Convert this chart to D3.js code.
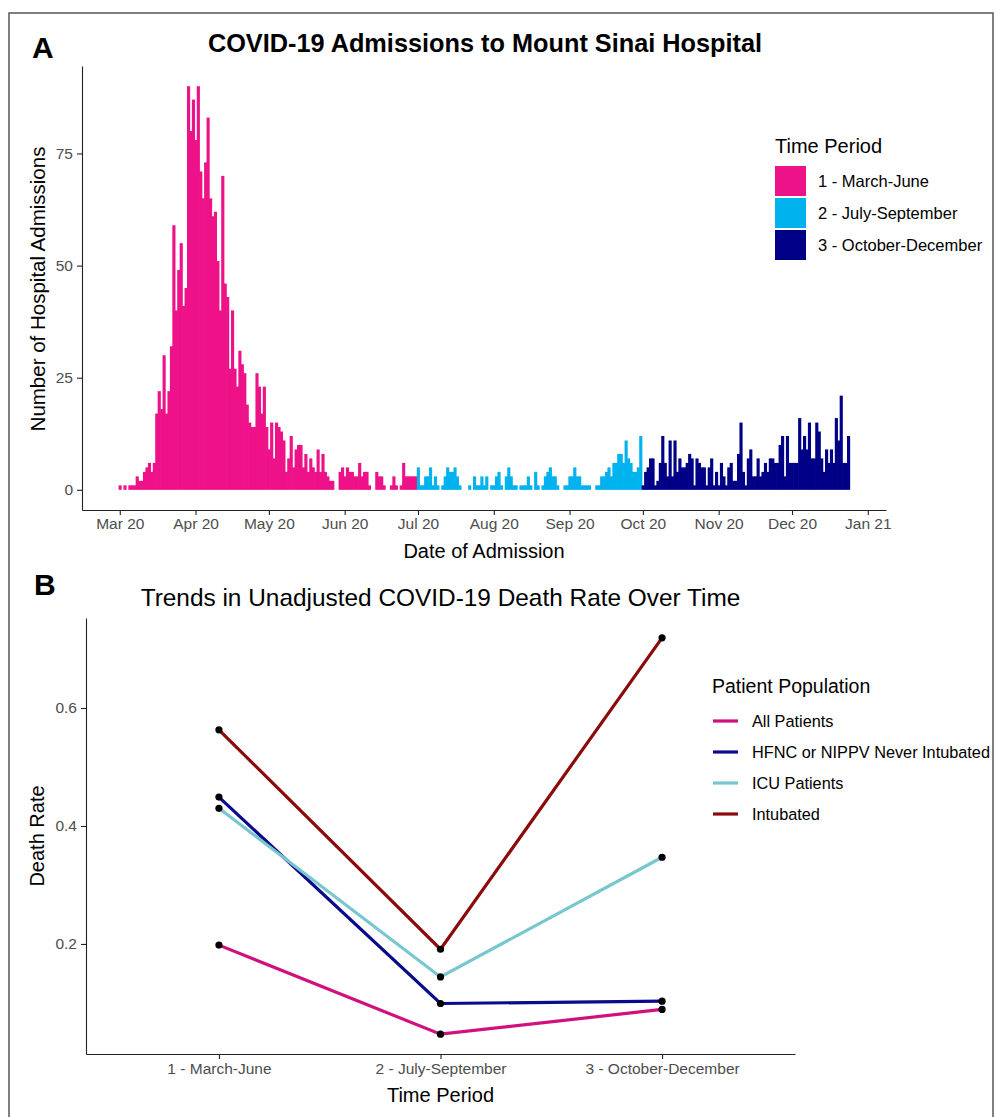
<!DOCTYPE html>
<meta charset="utf-8">
<style>
body { margin: 0; background: #fff; }
svg { font-family: "Liberation Sans", Arial, sans-serif; }
.axis path, .axis line { stroke: #222; stroke-width: 1.1; }
.axis text { fill: #4d4d4d; font-size: 15.5px; }
</style>
<svg width="997" height="1117"></svg>
<script src="https://d3js.org/d3.v7.min.js"></script>
<script>

// ---- panel A data: daily admissions, one array per time period
var periods = ["1 - March-June", "2 - July-September", "3 - October-December"];
var periodStarts = ["2020-03-01", "2020-07-01", "2020-10-01"];

var admitsMarJun = [1,0,1,0,1,1,1,3,2,2,
  4,5,6,4,6,17,22,18,30,17,
  22,32,59,40,49,55,41,45,90,80,
  87,78,90,71,65,73,83,65,61,62,
  51,40,70,46,43,27,40,27,23,31,
  28,26,19,15,14,14,26,23,17,23,
  14,9,15,7,15,14,13,11,4,7,
  12,5,9,10,10,5,8,4,7,5,
  4,9,4,8,4,3,2,2,0,0,
  4,5,3,5,4,4,3,3,6,3,
  4,4,1,0,0,4,3,3,1,0,
  0,1,3,1,0,1,6,3,3,3,
  3,3];
var admitsJulSep = [5,1,1,3,3,5,1,3,1,0,
  1,3,5,4,4,5,3,1,0,0,
  0,1,0,3,1,1,3,1,3,0,
  1,1,3,4,1,0,3,5,3,1,
  1,0,1,1,1,3,1,0,4,1,
  0,1,3,4,5,3,3,1,0,0,
  1,1,3,3,5,3,3,1,1,1,
  1,0,0,1,1,3,3,4,5,3,
  6,6,8,8,6,11,7,6,4,4,
  5,12];
var admitsOctDec = [1,4,5,7,7,1,2,6,12,6,
  3,11,3,11,4,7,5,5,6,8,
  7,1,7,6,5,5,1,5,7,1,
  4,1,6,3,1,5,6,2,2,8,
  15,4,1,7,9,3,3,7,3,4,
  6,4,7,7,6,6,10,12,3,12,
  6,6,6,6,16,9,12,9,15,7,
  7,15,13,7,4,9,6,9,6,16,
  11,21,6,6,12];
var admitTicks = [0, 25, 50, 75];

// ---- panel B data: death rate by period
var populations = ["All Patients", "HFNC or NIPPV Never Intubated", "ICU Patients", "Intubated"];
var rateAll = [0.198, 0.047, 0.089];
var rateHfnc = [0.449, 0.099, 0.103];
var rateIcu = [0.430, 0.144, 0.347];
var rateIntubated = [0.563, 0.191, 0.719];
var rateTicks = [0.2, 0.4, 0.6];

var svg = d3.select("svg");

// outer frame
svg.append("rect")
  .attr("x", 9).attr("y", 13)
  .attr("width", 984).attr("height", 1130)
  .attr("fill", "none").attr("stroke", "#555").attr("stroke-width", 1.5);

// ================= PANEL A =================
var parse = d3.timeParse("%Y-%m-%d");
var admitArrays = [admitsMarJun, admitsJulSep, admitsOctDec];
var admissions = [];
admitArrays.forEach(function(arr, i) {
  var start = parse(periodStarts[i]);
  arr.forEach(function(v, j) {
    admissions.push({date: d3.timeDay.offset(start, j), n: v, period: periods[i]});
  });
});

var halfDay = 12 * 3600 * 1000;
var lo = +admissions[0].date - halfDay,
    hi = +admissions[admissions.length - 1].date + halfDay,
    padX = (hi - lo) * 0.05;

var xA = d3.scaleTime()
  .domain([new Date(lo - padX), new Date(hi + padX)])
  .range([82, 886]);

var maxN = d3.max(admissions, function(d) { return d.n; });
var yA = d3.scaleLinear()
  .domain([-maxN * 0.05, maxN * 1.05])
  .range([510, 66]);

var periodColor = d3.scaleOrdinal()
  .domain(periods)
  .range(["#EE1289", "#00B2EE", "#000086"]);

var gA = svg.append("g");

// bars overlap a little so no light seams show between neighbouring days
gA.selectAll(".bar")
  .data(admissions.filter(function(d) { return d.n > 0; }))
  .enter().append("rect")
    .attr("class", "bar")
    .attr("x", function(d) { return xA(new Date(+d.date - halfDay)); })
    .attr("width", function(d) { return xA(new Date(+d.date + halfDay)) - xA(new Date(+d.date - halfDay)) + 0.7; })
    .attr("y", function(d) { return yA(d.n); })
    .attr("height", function(d) { return yA(0) - yA(d.n); })
    .attr("fill", function(d) { return periodColor(d.period); });

gA.append("g")
  .attr("class", "axis")
  .attr("transform", "translate(0,510)")
  .call(d3.axisBottom(xA)
    .tickValues(d3.timeMonth.range(parse("2020-03-01"), parse("2021-01-02")))
    .tickFormat(d3.timeFormat("%b %y"))
    .tickSize(5).tickSizeOuter(0).tickPadding(3));

gA.append("g")
  .attr("class", "axis")
  .attr("transform", "translate(82,0)")
  .call(d3.axisLeft(yA).tickValues(admitTicks).tickSize(5).tickSizeOuter(0).tickPadding(4));

svg.append("text")
  .attr("x", 32).attr("y", 58)
  .style("font-size", "30px").style("font-weight", "bold")
  .text("A");

svg.append("text")
  .attr("x", 485).attr("y", 52)
  .attr("text-anchor", "middle")
  .style("font-size", "25.3px").style("font-weight", "bold")
  .text("COVID-19 Admissions to Mount Sinai Hospital");

svg.append("text")
  .attr("x", 484).attr("y", 558)
  .attr("text-anchor", "middle")
  .style("font-size", "20px")
  .text("Date of Admission");

svg.append("text")
  .attr("transform", "translate(45,289) rotate(-90)")
  .attr("text-anchor", "middle")
  .style("font-size", "20.5px")
  .text("Number of Hospital Admissions");

// legend A
var legA = svg.append("g").attr("transform", "translate(775,0)");
legA.append("text")
  .attr("x", 0).attr("y", 153)
  .style("font-size", "20px")
  .text("Time Period");
var legAItem = legA.selectAll(".legA")
  .data(periods)
  .enter().append("g")
    .attr("transform", function(d, i) { return "translate(0," + (166 + i * 32) + ")"; });
legAItem.append("rect")
  .attr("width", 31).attr("height", 30)
  .attr("fill", periodColor);
legAItem.append("text")
  .attr("x", 43).attr("y", 15).attr("dy", "0.35em")
  .style("font-size", "16.5px")
  .text(function(d) { return d; });

// ================= PANEL B =================
var rateArrays = [rateAll, rateHfnc, rateIcu, rateIntubated];
var series = populations.map(function(p, i) {
  return {key: p, values: periods.map(function(t, j) { return {period: t, rate: rateArrays[i][j]}; })};
});

var xB = d3.scalePoint().domain(periods).range([86, 795]).padding(0.6);

var allRates = d3.merge(rateArrays);
var rMin = d3.min(allRates), rMax = d3.max(allRates), rPad = (rMax - rMin) * 0.05;
var yB = d3.scaleLinear().domain([rMin - rPad, rMax + rPad]).range([1054, 618]);

var popColor = d3.scaleOrdinal()
  .domain(populations)
  .range(["#D1107F", "#0A0A8C", "#79C7CE", "#8B0A0A"]);

var gB = svg.append("g");

var line = d3.line()
  .x(function(d) { return xB(d.period); })
  .y(function(d) { return yB(d.rate); });

gB.selectAll(".serie")
  .data(series)
  .enter().append("path")
    .attr("class", "serie")
    .attr("d", function(d) { return line(d.values); })
    .attr("fill", "none")
    .attr("stroke", function(d) { return popColor(d.key); })
    .attr("stroke-width", 3.2);

gB.selectAll(".pt")
  .data(d3.merge(series.map(function(s) { return s.values; })))
  .enter().append("circle")
    .attr("class", "pt")
    .attr("cx", function(d) { return xB(d.period); })
    .attr("cy", function(d) { return yB(d.rate); })
    .attr("r", 3.6)
    .attr("fill", "#000");

gB.append("g")
  .attr("class", "axis")
  .attr("transform", "translate(0,1054)")
  .call(d3.axisBottom(xB).tickSize(5).tickSizeOuter(0).tickPadding(4));

gB.append("g")
  .attr("class", "axis")
  .attr("transform", "translate(86,0)")
  .call(d3.axisLeft(yB).tickValues(rateTicks).tickFormat(d3.format(".1f")).tickSize(5).tickSizeOuter(0).tickPadding(4));

svg.append("text")
  .attr("x", 34).attr("y", 595)
  .style("font-size", "30px").style("font-weight", "bold")
  .text("B");

svg.append("text")
  .attr("x", 440.5).attr("y", 606)
  .attr("text-anchor", "middle")
  .style("font-size", "24.4px")
  .text("Trends in Unadjusted COVID-19 Death Rate Over Time");

svg.append("text")
  .attr("x", 440.5).attr("y", 1102)
  .attr("text-anchor", "middle")
  .style("font-size", "20px")
  .text("Time Period");

svg.append("text")
  .attr("transform", "translate(44,836) rotate(-90)")
  .attr("text-anchor", "middle")
  .style("font-size", "20px")
  .text("Death Rate");

// legend B
var legB = svg.append("g").attr("transform", "translate(712,0)");
legB.append("text")
  .attr("x", 0).attr("y", 693)
  .style("font-size", "19.5px")
  .text("Patient Population");
var legBItem = legB.selectAll(".legB")
  .data(populations)
  .enter().append("g")
    .attr("transform", function(d, i) { return "translate(0," + (721 + i * 31) + ")"; });
legBItem.append("line")
  .attr("x1", 1).attr("x2", 26)
  .attr("stroke", popColor)
  .attr("stroke-width", 3.2);
legBItem.append("text")
  .attr("x", 40).attr("dy", "0.35em")
  .style("font-size", "16.3px")
  .text(function(d) { return d; });

</script>
